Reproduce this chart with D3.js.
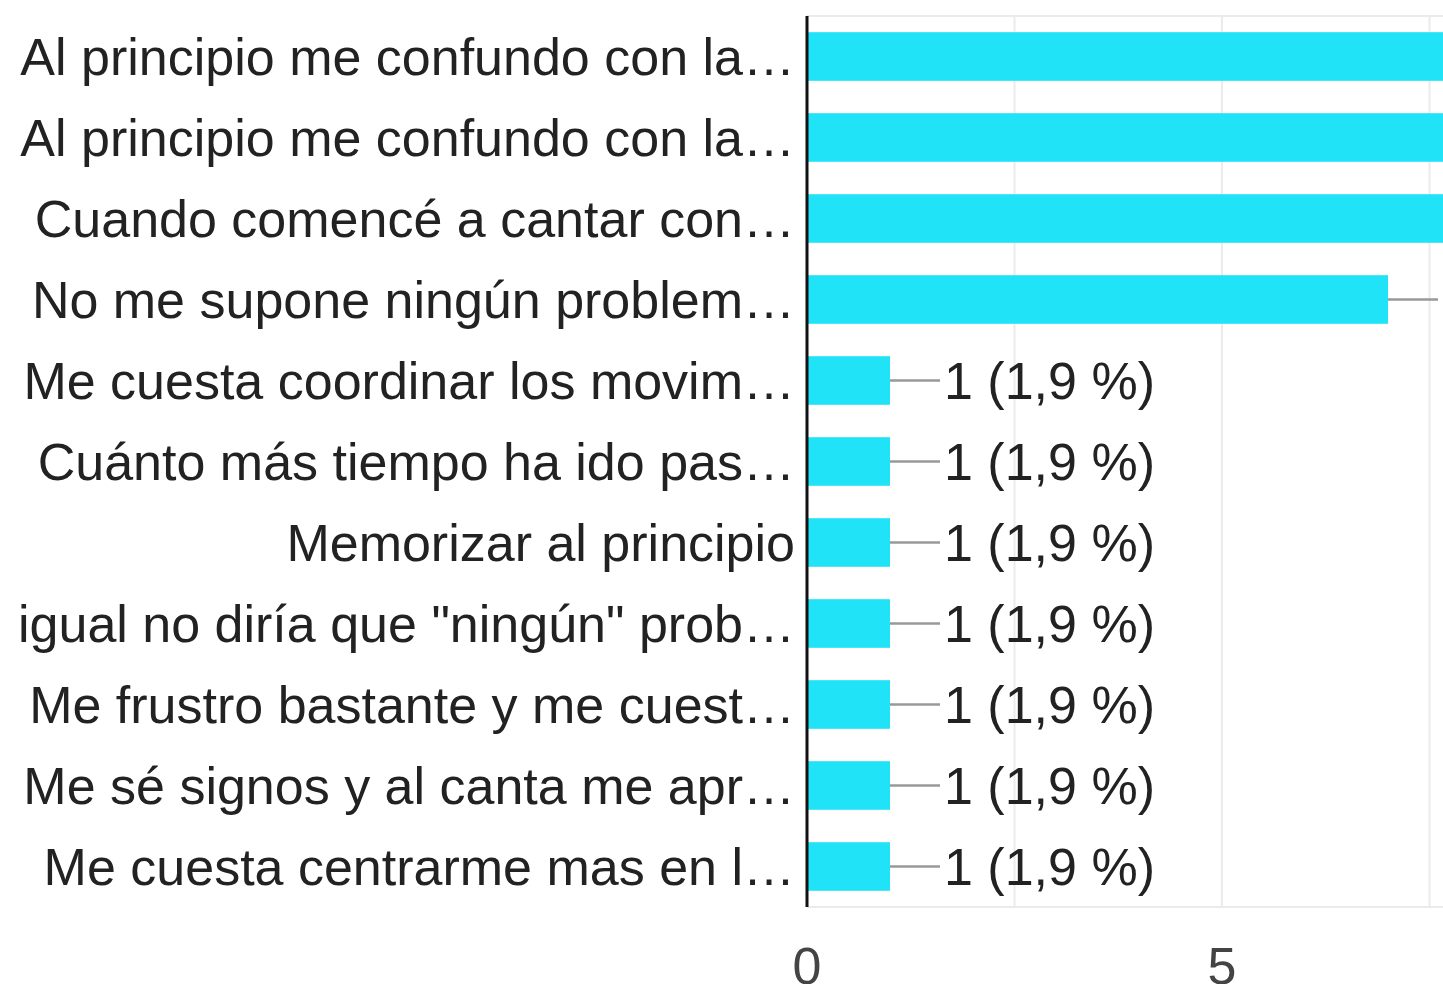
<!DOCTYPE html>
<html>
<head>
<meta charset="utf-8">
<script src="https://cdn.jsdelivr.net/npm/d3@7"></script>
<style>
  * { margin: 0; padding: 0; }
  body { background: #fff; overflow: hidden; }
  svg { display: block; font-family: "Liberation Sans", Arial, sans-serif; }
</style>
</head>
<body>
<script>
  // answers (labels already cut by the form)
  const answers = [
    "Al principio me confundo con la…",
    "Al principio me confundo con la…",
    "Cuando comencé a cantar con…",
    "No me supone ningún problem…",
    "Me cuesta coordinar los movim…",
    "Cuánto más tiempo ha ido pas…",
    "Memorizar al principio",
    "igual no diría que \"ningún\" prob…",
    "Me frustro bastante y me cuest…",
    "Me sé signos y al canta me apr…",
    "Me cuesta centrarme mas en l…"
  ];
  const counts = [16, 13, 10, 7, 1, 1, 1, 1, 1, 1, 1];
  const total = 53;
  const xTicks = [0, 5];
  const gridTicks = [2.5, 5, 7.5, 10, 12.5, 15];

  const w = 1443, h = 984;
  const x0 = 807, unit = 83;
  const plotTop = 16, plotBottom = 907;
  const fs = 52;

  const x = d3.scaleLinear().domain([0, 20]).range([x0, x0 + 20 * unit]);
  const y = d3.scaleBand().domain(d3.range(answers.length)).range([plotTop, plotBottom]).paddingInner(0.4).paddingOuter(0.2);

  const svg = d3.select("body").append("svg").attr("width", w).attr("height", h);

  // grid
  svg.append("g").selectAll("line").data(gridTicks).join("line")
    .attr("x1", d => x(d)).attr("x2", d => x(d))
    .attr("y1", plotTop).attr("y2", plotBottom)
    .attr("stroke", "#ebebeb").attr("stroke-width", 2);
  svg.append("g").selectAll("line").data([plotTop, plotBottom]).join("line")
    .attr("x1", x0).attr("x2", w)
    .attr("y1", d => d).attr("y2", d => d)
    .attr("stroke", "#ebebeb").attr("stroke-width", 2);

  // bars
  svg.append("g").selectAll("rect").data(counts).join("rect")
    .attr("x", x(0))
    .attr("y", (d, i) => y(i))
    .attr("width", d => x(d) - x(0))
    .attr("height", y.bandwidth())
    .attr("fill", "#21e3f8");

  // value labels with leader line
  const fmt = v => (Math.round(v / total * 1000) / 10).toFixed(1).replace(".", ",");
  const lab = svg.append("g").selectAll("g").data(counts).join("g")
    .attr("transform", (d, i) => `translate(${x(d)},${y(i) + y.bandwidth() / 2})`);
  lab.append("line").attr("x1", 0).attr("x2", 50).attr("y1", 0).attr("y2", 0)
    .attr("stroke", "#999").attr("stroke-width", 2.5);
  lab.append("text").attr("x", 54).attr("dy", "0.36em")
    .attr("font-size", fs).attr("fill", "#222")
    .text(d => `${d} (${fmt(d)} %)`);

  // category labels
  svg.append("g").selectAll("text").data(answers).join("text")
    .attr("x", x0 - 12)
    .attr("y", (d, i) => y(i) + y.bandwidth() / 2)
    .attr("dy", "0.36em")
    .attr("text-anchor", "end")
    .attr("font-size", fs).attr("fill", "#222")
    .text(d => d);

  // baseline
  svg.append("line").attr("x1", x0).attr("x2", x0).attr("y1", plotTop).attr("y2", plotBottom)
    .attr("stroke", "#111").attr("stroke-width", 3);

  // x axis labels
  svg.append("g").selectAll("text").data(xTicks).join("text")
    .attr("x", d => x(d)).attr("y", 965).attr("dy", "0.36em")
    .attr("text-anchor", "middle")
    .attr("font-size", fs).attr("fill", "#444")
    .text(d => d);
</script>
</body>
</html>
